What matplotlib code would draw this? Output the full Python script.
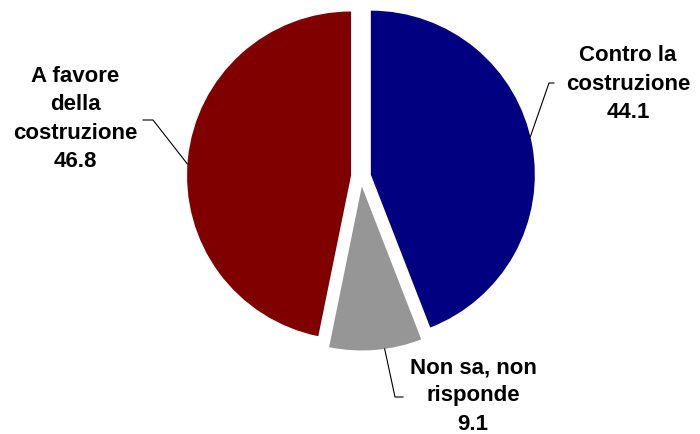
import numpy as np
import matplotlib
matplotlib.use('Agg')
import matplotlib.pyplot as plt

# dati
labels = ['Contro la\ncostruzione', 'Non sa, non\nrisponde', 'A favore\ndella\ncostruzione']
values = [44.1, 9.1, 46.8]
colors = ['#000080', '#969696', '#800000']

plt.rcParams['font.family'] = ['Liberation Sans', 'DejaVu Sans']

fig = plt.figure(figsize=(7, 4.34), dpi=100)
ax = fig.add_axes([0, 0, 1, 1])

cx, cy, r = 361, 257.5, 164
gap = 10  # spostamento delle fette (in pixel)
wedges, _ = ax.pie(values, colors=colors, startangle=90, counterclock=False,
                   explode=[gap] * 3, center=(cx, cy), radius=r,
                   wedgeprops=dict(linewidth=0))

ax.set_xlim(0, 700)
ax.set_ylim(0, 434)
ax.set_aspect('equal')
ax.axis('off')

# posizione etichette: (angolo sul bordo, gomito, fine linea, testo)
lab_cfg = [
    (13.4, (549, 351), (554, 351), (628, 350)),
    (-82, (395, 37), (403, 37), (473, 38)),
    (176, (153, 314), (143, 314), (75, 315)),
]

for w, lab, v, (ang, elbow, end, txt) in zip(wedges, labels, values, lab_cfg):
    mid = np.deg2rad((w.theta1 + w.theta2) / 2)
    ox = cx + gap * np.cos(mid)
    oy = cy + gap * np.sin(mid)
    a = np.deg2rad(ang)
    px, py = ox + r * np.cos(a), oy + r * np.sin(a)
    ax.plot([px, elbow[0], end[0]], [py, elbow[1], end[1]], color='black', lw=0.8)
    ax.text(txt[0], txt[1], f'{lab}\n{v:.1f}', ha='center', va='center',
            multialignment='center', fontsize=16, fontweight='bold',
            linespacing=1.45)

fig.savefig('out.png', dpi=100)
